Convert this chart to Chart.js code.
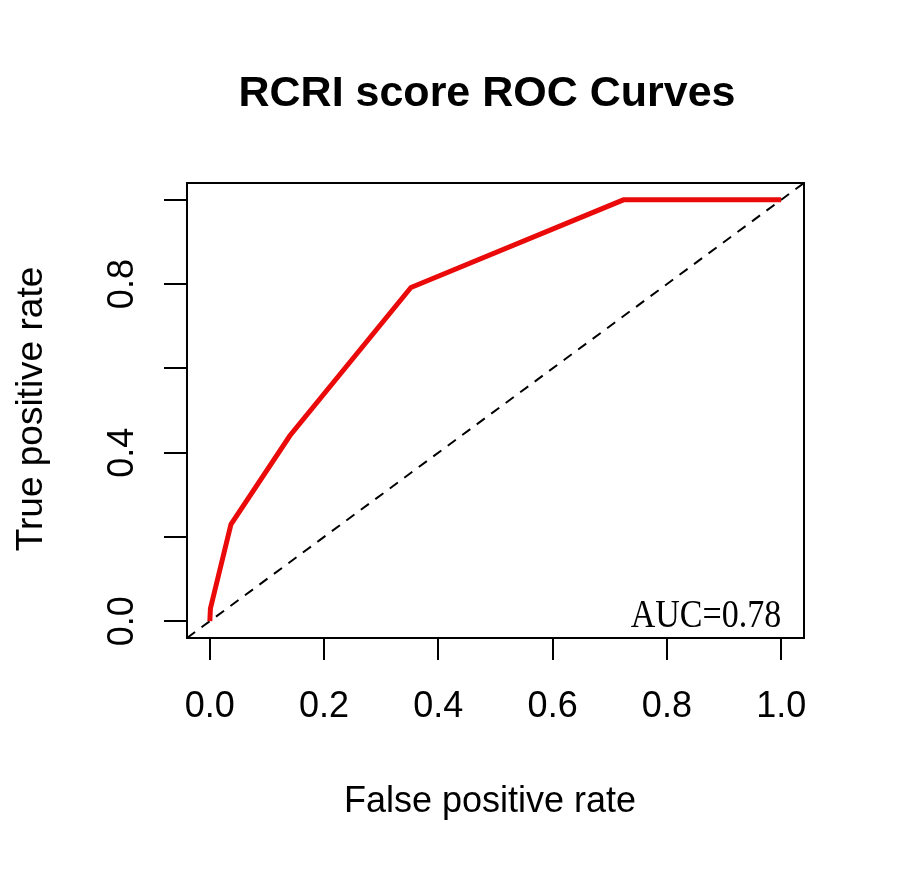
<!DOCTYPE html>
<html>
<head>
<meta charset="utf-8">
<script src="https://cdn.jsdelivr.net/npm/chart.js@4/dist/chart.umd.min.js"></script>
<style>
html, body { margin: 0; padding: 0; background: #fff; }
canvas { display: block; }
</style>
</head>
<body>
<canvas id="roc-chart" width="898" height="872"></canvas>
<script>
// ROC curve
const fpr = [0, 0.001, 0.037, 0.14, 0.352, 0.724, 1];
const tpr = [0, 0.03, 0.23, 0.44, 0.792, 1, 1];
// chance diagonal (abline 0,1) across the whole plot region
const chanceX = [-0.04, 1.04];
const chanceY = [-0.04, 1.04];
const xTicks = [0, 0.2, 0.4, 0.6, 0.8, 1];
const yTicks = [0, 0.2, 0.4, 0.6, 0.8, 1];
const yTickLabels = ['0.0', '', '0.4', '', '0.8', ''];
const aucLabel = 'AUC=0.78';

const sans = '"Liberation Sans", Arial, sans-serif';

// R-ish extras: box, rotated y labels, titles, AUC text
const rStyle = {
  id: 'rStyle',
  afterDraw(chart) {
    const { ctx, chartArea: a, scales: { x, y } } = chart;
    ctx.save();
    ctx.strokeStyle = '#000';
    ctx.lineWidth = 2;
    ctx.strokeRect(a.left, a.top, a.right - a.left, a.bottom - a.top);

    ctx.fillStyle = '#000';
    ctx.textAlign = 'center';
    ctx.textBaseline = 'alphabetic';

    ctx.font = '36px ' + sans;
    yTicks.forEach((v, i) => {
      if (!yTickLabels[i]) return;
      ctx.save();
      ctx.translate(a.left - 54, y.getPixelForValue(v));
      ctx.rotate(-Math.PI / 2);
      ctx.fillText(yTickLabels[i], 0, 0);
      ctx.restore();
    });

    // axis titles
    ctx.font = '36px ' + sans;
    ctx.fillText('False positive rate', 490, 812);
    ctx.save();
    ctx.translate(42, 409);
    ctx.rotate(-Math.PI / 2);
    ctx.font = '37px ' + sans;
    ctx.fillText('True positive rate', 0, 0);
    ctx.restore();

    // main title
    ctx.font = 'bold 43px ' + sans;
    ctx.fillText('RCRI score ROC Curves', 487, 106);

    // AUC, narrow serif like the original
    ctx.font = '40px "Liberation Serif", "DejaVu Serif", serif';
    ctx.textAlign = 'right';
    ctx.save();
    ctx.translate(x.getPixelForValue(1), y.getPixelForValue(0) + 6);
    ctx.scale(0.85, 1);
    ctx.fillText(aucLabel, 0, 0);
    ctx.restore();
    ctx.restore();
  }
};

const axisGrid = {
  drawOnChartArea: false,
  drawTicks: true,
  color: '#000',
  tickColor: '#000',
  lineWidth: 2,
  tickWidth: 2
};

const ctx = document.getElementById('roc-chart').getContext('2d');

const chart = new Chart(ctx, {
  type: 'scatter',
  data: {
    datasets: [
      {
        label: 'ROC',
        data: fpr.map((v, i) => ({ x: v, y: tpr[i] })),
        showLine: true,
        borderColor: '#ea0a0a',
        borderWidth: 5,
        pointRadius: 0,
        tension: 0
      },
      {
        label: 'chance',
        data: chanceX.map((v, i) => ({ x: v, y: chanceY[i] })),
        showLine: true,
        borderColor: '#000',
        borderWidth: 2,
        borderDash: [10, 8],
        pointRadius: 0
      }
    ]
  },
  options: {
    responsive: false,
    animation: false,
    layout: { padding: { top: 183, right: 94, left: 0, bottom: 0 } },
    plugins: {
      legend: { display: false },
      title: { display: false },
      tooltip: { enabled: false }
    },
    scales: {
      x: {
        type: 'linear',
        min: -0.04,
        max: 1.04,
        afterBuildTicks: (s) => { s.ticks = xTicks.map(v => ({ value: v })); },
        afterFit: (s) => { s.height = 234; },
        border: { display: false },
        grid: Object.assign({ tickLength: 22 }, axisGrid),
        ticks: {
          autoSkip: false,
          maxRotation: 0,
          padding: 25,
          color: '#000',
          font: { family: sans, size: 36 },
          callback: (v) => Number(v).toFixed(1)
        }
      },
      y: {
        type: 'linear',
        min: -0.04,
        max: 1.04,
        afterBuildTicks: (s) => { s.ticks = yTicks.map(v => ({ value: v })); },
        afterFit: (s) => { s.width = 187; },
        border: { display: false },
        grid: Object.assign({ tickLength: 23 }, axisGrid),
        ticks: { display: false }
      }
    }
  },
  plugins: [rStyle]
});
</script>
</body>
</html>
